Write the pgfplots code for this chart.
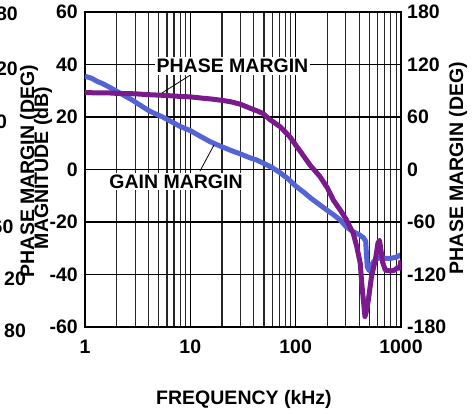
\documentclass[border=0pt]{standalone}
\usepackage{pgfplots}
\pgfplotsset{compat=1.18}
\usepackage{fontspec}
\setmainfont{Liberation Sans}
\definecolor{gainblue}{RGB}{84,100,212}
\definecolor{phasepurple}{RGB}{123,26,140}

\begin{document}
\begin{tikzpicture}[x=1pt,y=1pt,font=\fontsize{19.5}{22}\selectfont\bfseries]
\useasboundingbox (0,0) rectangle (475,414);
\clip (0,0) rectangle (475,414);

% cut-off labels of the neighbouring chart at the left edge
\foreach \v/\xx/\yy in {180/-15/14,120/-15/69,60/-15/121.5,-60/-15/226.5,20/4/279,80/4/331}
  \node[anchor=west,inner sep=0pt] at (\xx,414-\yy) {\v};
\node[rotate=90] at (29,243) {PHASE MARGIN (DEG)};

\begin{axis}[
  at={(85pt,87pt)}, anchor=south west,
  width=316pt, height=315pt, scale only axis,
  xmode=log, xmin=1, xmax=1000,
  ymin=-60, ymax=60,
  xtick={1,10,100,1000}, xticklabels={1,10,100,1000},
  ytick={-60,-40,-20,0,20,40,60},
  yticklabels={-60,-40,-20,0,20,40,60},
  ytick pos=left, yticklabel pos=left,
  xmajorgrids, xminorgrids, ymajorgrids,
  grid style={black,line width=1.2pt},
  minor grid style={black!85,line width=1.1pt},
  major tick length=0pt, minor tick length=0pt,
  axis line style={line width=2.4pt},
  xticklabel style={anchor=north,inner sep=0pt,yshift=-13pt},
  yticklabel style={anchor=east,inner sep=0pt,xshift=-7pt},
]
\addplot[gainblue, line width=5pt, line join=round] coordinates {
  (1,35.5) (1.15,34.8) (1.3,33.6) (1.45,32.8) (1.7,31.4) (2,29.8)
  (2.4,28) (2.8,26.5) (3.4,24.3) (4,22.5) (4.6,21.3) (5.4,20.1)
  (6.5,18.4) (8,16.4) (10,14.8) (12.5,12.6) (15.4,10.6) (19,9)
  (23.8,7.4) (30,5.9) (36,4.6) (42.7,3.6) (50,2.3) (60,0.7)
  (71,-1.2) (85,-3.6) (100,-6.3) (118,-8.5) (140,-11) (170,-13.5)
  (200,-15.6) (230,-17.3) (264,-19.2) (305,-22) (352,-23.7)
  (400,-24.8) (440,-26) (462,-27.3) (478,-37) (500,-38.6)
  (520,-37) (545,-35.3) (590,-34) (633,-33.6) (700,-33.8)
  (790,-33.9) (900,-33.4) (1000,-32.5)
};
\end{axis}

\begin{axis}[
  at={(85pt,87pt)}, anchor=south west,
  width=316pt, height=315pt, scale only axis,
  xmode=log, xmin=1, xmax=1000,
  ymin=-180, ymax=180,
  hide x axis, axis y line*=right,
  ytick={-180,-120,-60,0,60,120,180},
  yticklabels={-180,-120,-60,0,60,120,180},
  major tick length=0pt, minor tick length=0pt,
  axis line style={line width=2.4pt},
  yticklabel style={anchor=west,inner sep=0pt,xshift=6pt},
]
\addplot[phasepurple, line width=5pt, line join=round] coordinates {
  (1,88) (1.3,87.5) (1.7,87.5) (2,87) (3,86.5) (4,85.5) (5,85)
  (6,84.5) (8,83.5) (10,83) (13,81.5) (16,80.5) (20,79) (24,77.5)
  (30,74.5) (37,70) (43,67) (49,64) (57,57) (71,49) (88,37.5)
  (100,28) (114,18.6) (137,5) (170,-8) (200,-21) (228,-35)
  (264,-46) (305,-58) (352,-73) (380,-88) (410,-107) (424,-130)
  (439,-149) (455,-168) (470,-162) (490,-149) (525,-122)
  (570,-104) (605,-84) (625,-81) (645,-92) (670,-106) (710,-115)
  (800,-116) (870,-115) (930,-112) (970,-113) (1000,-104)
};
\end{axis}

% series labels with leader lines
\draw[line width=0.8pt] (192,340) -- (162,321);
\draw[line width=0.8pt] (200,243) -- (214,269);
\node[fill=white,inner sep=2pt] at (232.5,348) {PHASE MARGIN};
\node[fill=white,inner sep=2pt] at (176,232.5) {GAIN MARGIN};

% axis titles
\node[rotate=90] at (43,246) {MAGNITUDE (dB)};
\node[rotate=90] at (458,246) {PHASE MARGIN (DEG)};
\node[anchor=base] at (244,9) {FREQUENCY (kHz)};
\end{tikzpicture}
\end{document}
